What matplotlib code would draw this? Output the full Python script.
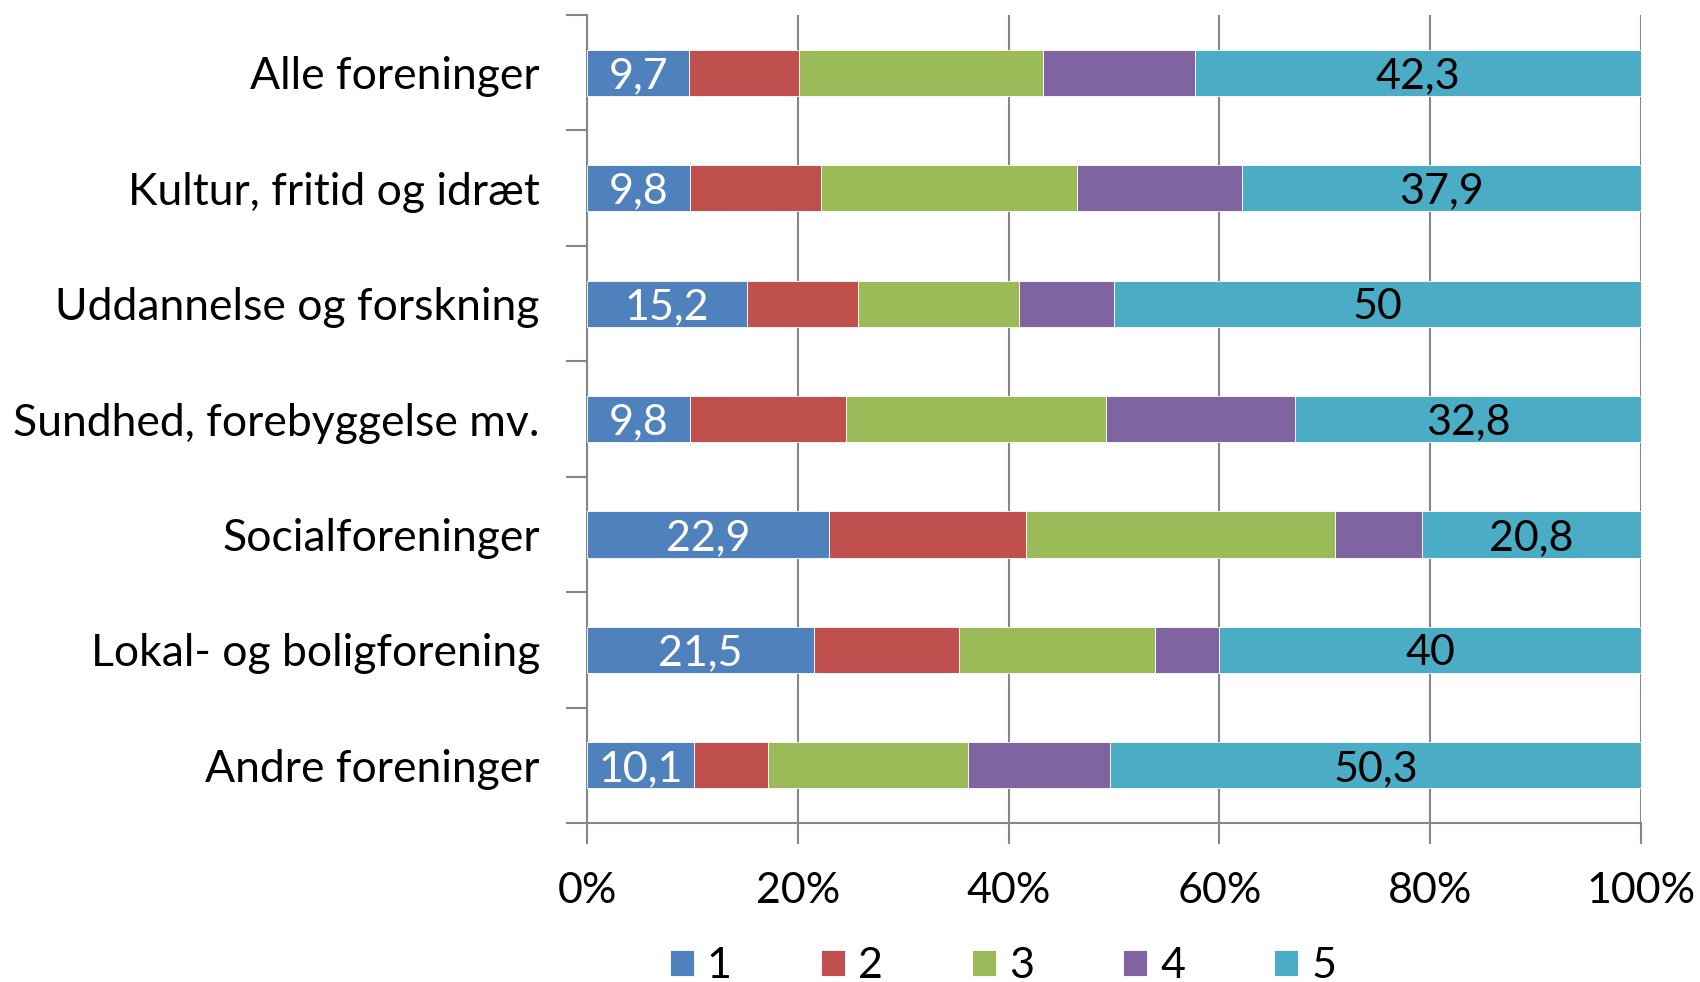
import matplotlib
matplotlib.use("Agg")
import matplotlib.pyplot as plt
import numpy as np
from matplotlib.ticker import FixedLocator

categories = ["Alle foreninger", "Kultur, fritid og idræt", "Uddannelse og forskning",
              "Sundhed, forebyggelse mv.", "Socialforeninger", "Lokal- og boligforening",
              "Andre foreninger"]
series_names = ["1", "2", "3", "4", "5"]
s1 = [9.7, 9.8, 15.2, 9.8, 22.9, 21.5, 10.1]
s2 = [10.4, 12.4, 10.5, 14.8, 18.7, 13.8, 7.1]
s3 = [23.2, 24.3, 15.3, 24.6, 29.3, 18.6, 18.9]
s4 = [14.4, 15.6, 9.0, 18.0, 8.2, 6.1, 13.5]
s5 = [42.3, 37.9, 50.0, 32.8, 20.8, 40.0, 50.3]
x_ticks = [0, 20, 40, 60, 80, 100]
x_ticklabels = ["0%", "20%", "40%", "60%", "80%", "100%"]

colors = ["#4F81BD", "#C0504D", "#9BBB59", "#8064A2", "#4BACC6"]
label_colors = ["white", None, None, None, "black"]

plt.rcParams['font.family'] = ['Lato', 'DejaVu Sans']

fig = plt.figure(figsize=(17, 9.82), dpi=100)
ax = fig.add_axes([0.3453, 0.1619, 0.9653 - 0.3453, 0.9847 - 0.1619])

all_series = [s1, s2, s3, s4, s5]
data = np.array(all_series, dtype=float)
totals = data.sum(axis=0)
pct = data / totals * 100

n = len(categories)
y = np.arange(n)
left = np.zeros(n)
handles = []
for i, name in enumerate(series_names):
    h = ax.barh(y, pct[i], left=left, height=0.4, color=colors[i],
                edgecolor="white", linewidth=0.6, label=name, zorder=3)
    handles.append(h)
    if label_colors[i] is not None:
        for j in range(n):
            val = all_series[i][j]
            txt = ("%g" % val).replace(".", ",")
            ax.text(left[j] + pct[i][j] / 2, y[j] + 0.03, txt, ha="center", va="center",
                    color=label_colors[i], fontsize=31, zorder=4)
    left = left + pct[i]

ax.set_xlim(0, 100)
ax.set_ylim(n - 0.5, -0.5)

gray = "#868686"
ax.set_xticks(x_ticks)
ax.set_xticklabels(x_ticklabels, fontsize=31)
ax.tick_params(axis="x", length=15, width=1.5, color=gray, pad=20)
ax.xaxis.grid(True, color=gray, linewidth=1.5, zorder=0)

ax.set_yticks(y)
ax.set_yticklabels(categories, fontsize=32)
ax.tick_params(axis="y", which="major", length=0, pad=34)
ax.yaxis.set_minor_locator(FixedLocator(np.arange(-0.5, n + 0.5, 1)))
ax.tick_params(axis="y", which="minor", length=15, width=1.5, color=gray)

for s in ["top", "right"]:
    ax.spines[s].set_visible(False)
for s in ["left", "bottom"]:
    ax.spines[s].set_color(gray)
    ax.spines[s].set_linewidth(1.5)

leg = fig.legend(handles=handles, labels=series_names, loc="center",
                 bbox_to_anchor=(0.59, 0.016), ncol=5, frameon=False,
                 fontsize=31, handlelength=0.56, handleheight=0.56,
                 handletextpad=0.3, columnspacing=2.07)

fig.savefig("out.png", dpi=100)
